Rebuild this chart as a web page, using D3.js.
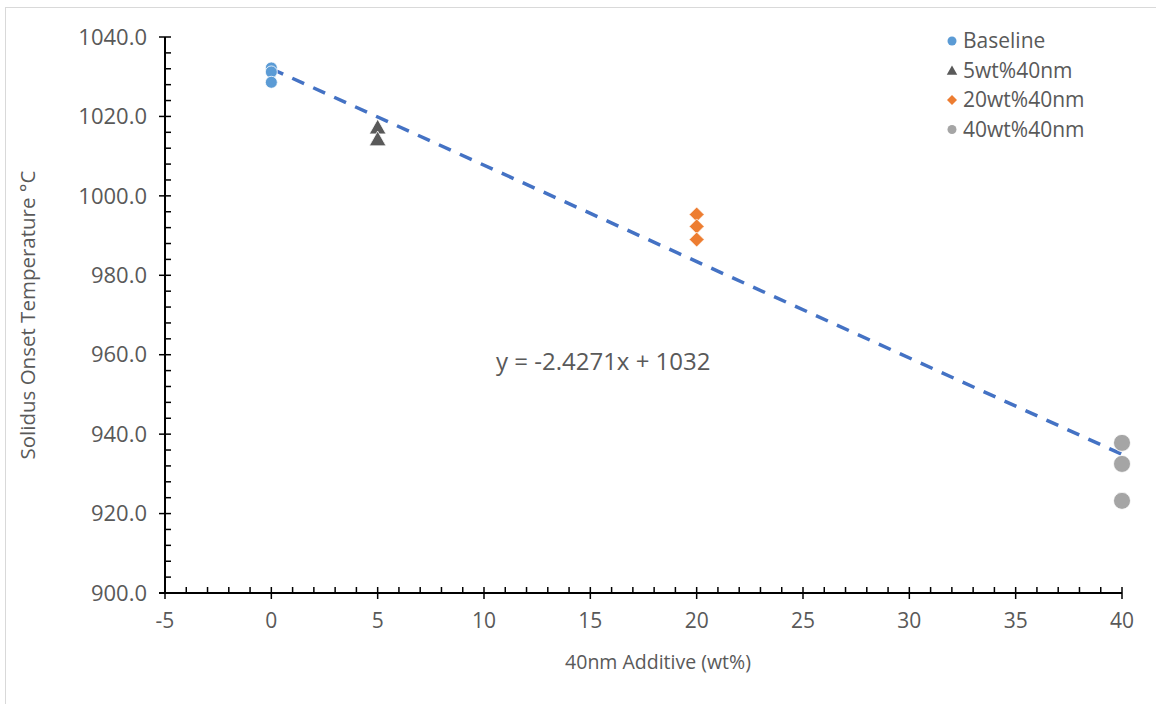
<!DOCTYPE html>
<html><head><meta charset="utf-8">
<script src="https://cdn.jsdelivr.net/npm/d3@7"></script>
<style>body{margin:0;background:#fff}svg{display:block}text{font-family:"Open Sans","Liberation Sans",sans-serif;fill:#595959}</style>
</head><body><svg id="c" width="1156" height="704"></svg>
<script>
const xTicks = [-5,0,5,10,15,20,25,30,35,40];
const yTicks = [900,920,940,960,980,1000,1020,1040];
const seriesNames = ["Baseline","5wt%40nm","20wt%40nm","40wt%40nm"];
const seriesColors = ["#5B9BD5","#595959","#ED7D31","#A5A5A5"];
const seriesShapes = ["circle","triangle","diamond","circle"];
const baselineX = [0,0,0];
const baselineY = [1032.2,1031.2,1028.6];
const wt5X = [5,5];
const wt5Y = [1017.3,1014.3];
const wt20X = [20,20,20];
const wt20Y = [995.3,992.3,989.0];
const wt40X = [40,40,40];
const wt40Y = [937.8,932.5,923.2];
const trendSlope = -2.4271, trendIntercept = 1032;
const trendRange = [0,40];

const svg = d3.select("#c");
svg.append("rect").attr("x",5.5).attr("y",7.5).attr("width",1160).attr("height",710)
  .attr("fill","none").attr("stroke","#d9d9d9");

const x = d3.scaleLinear().domain([-5,40]).range([165,1122]);
const y = d3.scaleLinear().domain([900,1040]).range([593,37]);

// y axis
const yAxisG = svg.append("g").attr("transform",`translate(${x(-5)},0)`);
yAxisG.append("line").attr("y1",y(900)).attr("y2",y(1040)).attr("stroke","#000").attr("stroke-width",2);
d3.range(900,1041,4).forEach(v=>{
  const major = (v%20===0);
  yAxisG.append("line").attr("x1",major?-6:0).attr("x2",6).attr("y1",y(v)).attr("y2",y(v)).attr("stroke","#000").attr("stroke-width",1.5);
});
yTicks.forEach(v=>{
  yAxisG.append("text").attr("x",-18).attr("y",y(v)).attr("dy","0.35em").attr("text-anchor","end")
    .style("font-size","22px").text(v.toFixed(1));
});
// x axis
const xAxisG = svg.append("g").attr("transform",`translate(0,${y(900)})`);
xAxisG.append("line").attr("x1",x(-5)-6).attr("x2",x(40)).attr("stroke","#000").attr("stroke-width",2);
d3.range(-5,41,1).forEach(v=>{
  const major = (v%5===0);
  xAxisG.append("line").attr("x1",x(v)).attr("x2",x(v)).attr("y1",-6).attr("y2",major?6:0).attr("stroke","#000").attr("stroke-width",1.5);
});
xTicks.forEach(v=>{
  xAxisG.append("text").attr("x",x(v)).attr("y",35).attr("text-anchor","middle").style("font-size","21px").text(v);
});

// titles
svg.append("text").attr("transform",`translate(35,${315}) rotate(-90)`).attr("text-anchor","middle")
  .style("font-size","20.5px").text("Solidus Onset Temperature °C");
svg.append("text").attr("x",658).attr("y",669).attr("text-anchor","middle").style("font-size","19.5px").text("40nm Additive (wt%)");

// trend line
svg.append("line").attr("x1",x(trendRange[0])).attr("y1",y(trendSlope*trendRange[0]+trendIntercept))
  .attr("x2",x(trendRange[1])).attr("y2",y(trendSlope*trendRange[1]+trendIntercept))
  .attr("stroke","#4472C4").attr("stroke-width",3.5).attr("stroke-dasharray","13,10");

// points
function shapePath(s, r){
  if (s==="circle") return d3.symbol().type(d3.symbolCircle).size(Math.PI*r*r)();
  if (s==="triangle") return `M0,${-r}L${r*1.05},${r*0.85}L${-r*1.05},${r*0.85}Z`;
  return `M0,${-r}L${r},0L0,${r}L${-r},0Z`;
}
function drawSeries(xs,ys,i,r){
  xs.forEach((xv,k)=>{
    svg.append("path").attr("d",shapePath(seriesShapes[i],r))
      .attr("transform",`translate(${x(xv)},${y(ys[k])})`)
      .attr("fill",seriesColors[i]).attr("stroke","#fff").attr("stroke-width",0.8);
  });
}
drawSeries(baselineX,baselineY,0,6);
drawSeries(wt5X,wt5Y,1,8);
drawSeries(wt20X,wt20Y,2,7.5);
drawSeries(wt40X,wt40Y,3,8.5);

svg.append("text").attr("x",496).attr("y",370).style("font-size","24px").text("y = -2.4271x + 1032");

// legend
const lg = svg.append("g");
seriesNames.forEach((n,i)=>{
  const yy = 41 + i*29.5;
  const s = seriesShapes[i];
  lg.append("path").attr("d",shapePath(s, s==="circle"?4.5:5))
    .attr("transform",`translate(952,${yy})`).attr("fill",seriesColors[i]);
  lg.append("text").attr("x",963).attr("y",yy).attr("dy","0.35em").style("font-size","21px").text(n);
});
</script></body></html>
